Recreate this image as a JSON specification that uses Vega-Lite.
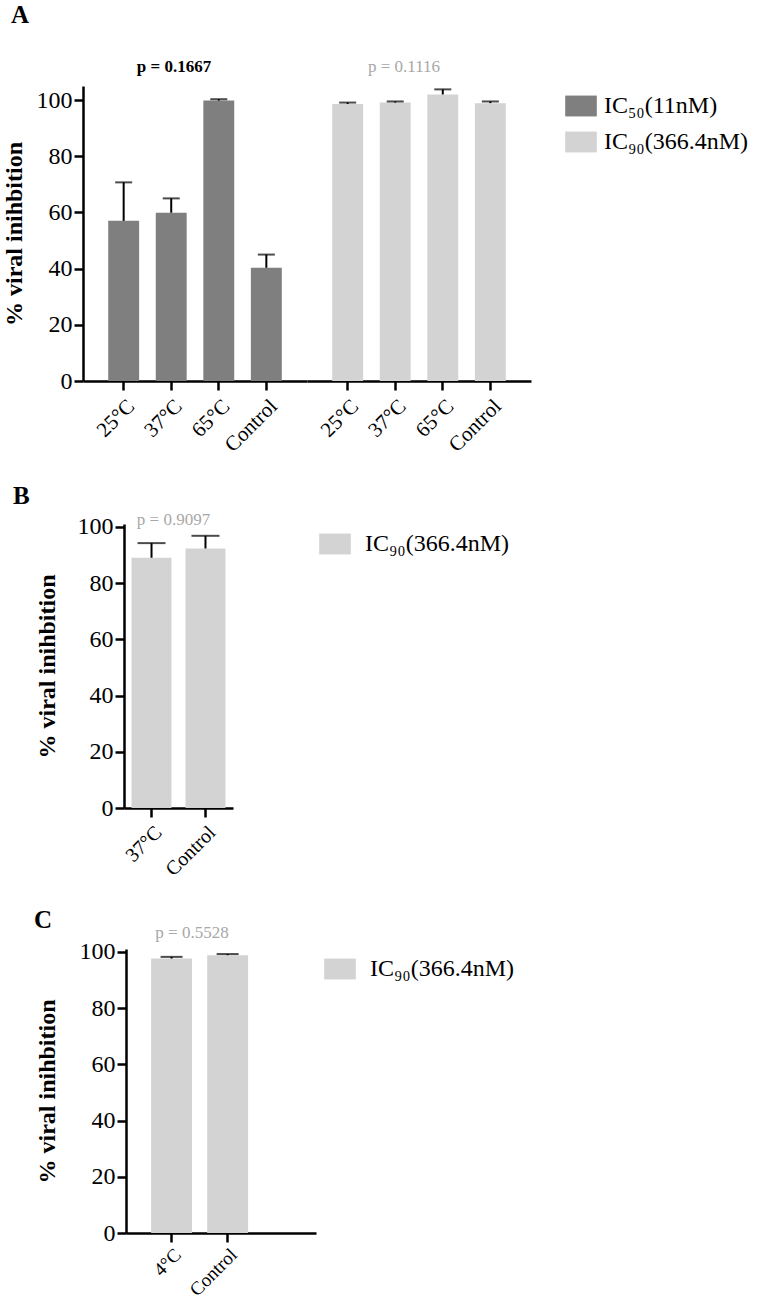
{
  "$schema": "https://vega.github.io/schema/vega-lite/v6.json",
  "background": "white",
  "padding": {"left": 2, "top": 3, "right": 5, "bottom": 2},
  "config": {
    "font": "Liberation Serif",
    "view": {"stroke": null},
    "axis": {"domainColor": "black", "domainWidth": 2.5, "tickColor": "black", "tickWidth": 2.5, "tickSize": 9, "labelFont": "Liberation Serif", "labelColor": "black", "titleFont": "Liberation Serif", "titleColor": "black", "grid": false},
    "axisY": {"labelFontSize": 24, "titleFontSize": 24, "titleFontWeight": "bold", "labelPadding": 2},
    "axisX": {"labelFontSize": 21, "labelAngle": -45, "labelPadding": 5},
    "legend": {"labelFont": "Liberation Serif", "labelFontSize": 24, "labelColor": "black", "symbolType": "M-1,-0.66L1,-0.66L1,0.66L-1,0.66Z", "symbolSize": 1000, "symbolStrokeWidth": 0, "rowPadding": 8, "labelOffset": 14, "padding": 4},
    "title": {"font": "Liberation Serif", "color": "black"}
  },
  "datasets": {
    "a50": [
      {"series": "IC₅₀(11nM)", "cond": "25°C", "value": 57.0, "upper": 70.7},
      {"series": "IC₅₀(11nM)", "cond": "37°C", "value": 59.9, "upper": 65.0},
      {"series": "IC₅₀(11nM)", "cond": "65°C", "value": 99.8, "upper": 100.3},
      {"series": "IC₅₀(11nM)", "cond": "Control", "value": 40.3, "upper": 45.0}
    ],
    "a90": [
      {"series": "IC₉₀(366.4nM)", "cond": "25°C", "value": 98.6, "upper": 99.1},
      {"series": "IC₉₀(366.4nM)", "cond": "37°C", "value": 99.1, "upper": 99.5},
      {"series": "IC₉₀(366.4nM)", "cond": "65°C", "value": 102.0, "upper": 103.8},
      {"series": "IC₉₀(366.4nM)", "cond": "Control", "value": 98.9, "upper": 99.5}
    ],
    "b": [
      {"series": "IC₉₀(366.4nM)", "cond": "37°C", "value": 89.0, "upper": 94.2},
      {"series": "IC₉₀(366.4nM)", "cond": "Control", "value": 92.3, "upper": 96.8}
    ],
    "c": [
      {"series": "IC₉₀(366.4nM)", "cond": "4°C", "value": 97.6, "upper": 98.2},
      {"series": "IC₉₀(366.4nM)", "cond": "Control", "value": 98.8, "upper": 99.2}
    ],
    "empty": []
  },
  "resolve": {"scale": {"color": "independent"}, "legend": {"color": "independent"}},
  "spacing": 27,
  "vconcat": [
    {
      "title": {"text": "A", "anchor": "start", "frame": "group", "dx": -72, "fontSize": 25, "fontWeight": "bold", "offset": 30},
      "bounds": "flush",
      "spacing": 0,
      "resolve": {"scale": {"color": "shared", "y": "independent"}},
      "hconcat": [
        {
          "width": 224, "height": 295,
          "data": {"name": "a50"},
          "title": {"text": "p = 0.1667", "fontSize": 17, "fontWeight": "bold", "color": "black", "dx": -21, "offset": 10},
          "encoding": {
            "x": {"field": "cond", "type": "nominal", "sort": null, "title": null, "scale": {"paddingInner": 0.35, "paddingOuter": 0.53}}
          },
          "layer": [
            {"mark": {"type": "bar"},
             "encoding": {
               "y": {"field": "value", "type": "quantitative", "title": "% viral inihbition", "scale": {"domain": [0, 105], "nice": false}, "axis": {"values": [0, 20, 40, 60, 80, 100], "titlePadding": 10}},
               "color": {"field": "series", "type": "nominal", "scale": {"domain": ["IC₅₀(11nM)", "IC₉₀(366.4nM)"], "range": ["#7f7f7f", "#d3d3d3"]}, "legend": {"title": null, "orient": "right", "offset": 30, "labelFontSize": 24, "labelOffset": 7}}
             }},
            {"mark": {"type": "rule", "color": "black", "strokeWidth": 2},
             "encoding": {"y": {"field": "value", "type": "quantitative", "title": "% viral inihbition"}, "y2": {"field": "upper"}}},
            {"mark": {"type": "tick", "color": "black", "thickness": 2, "size": 17},
             "encoding": {"y": {"field": "upper", "type": "quantitative", "title": "% viral inihbition"}}}
          ]
        },
        {
          "width": 224, "height": 295,
          "data": {"name": "a90"},
          "title": {"text": "p = 0.1116", "fontSize": 17, "fontWeight": "normal", "color": "#a8a8a8", "dx": -15, "offset": 10},
          "encoding": {
            "x": {"field": "cond", "type": "nominal", "sort": null, "title": null, "scale": {"paddingInner": 0.35, "paddingOuter": 0.53}}
          },
          "layer": [
            {"mark": {"type": "bar"},
             "encoding": {
               "y": {"field": "value", "type": "quantitative", "scale": {"domain": [0, 105], "nice": false}, "axis": null},
               "color": {"field": "series", "type": "nominal", "scale": {"domain": ["IC₅₀(11nM)", "IC₉₀(366.4nM)"], "range": ["#7f7f7f", "#d3d3d3"]}, "legend": {"title": null, "orient": "right", "offset": 30, "labelFontSize": 24, "labelOffset": 7}}
             }},
            {"mark": {"type": "rule", "color": "black", "strokeWidth": 2},
             "encoding": {"y": {"field": "value", "type": "quantitative", "axis": null}, "y2": {"field": "upper"}}},
            {"mark": {"type": "tick", "color": "black", "thickness": 2, "size": 17},
             "encoding": {"y": {"field": "upper", "type": "quantitative", "axis": null}}}
          ]
        }
      ]
    },
    {
      "title": {"text": "B", "anchor": "start", "frame": "group", "dx": -70, "fontSize": 25, "fontWeight": "bold", "offset": 2},
      "bounds": "flush",
      "spacing": 0,
      "hconcat": [
        {"width": 41, "height": 1, "data": {"name": "empty"}, "mark": "point", "encoding": {}},
        {
          "width": 109, "height": 284,
          "data": {"name": "b"},
          "title": {"text": "p = 0.9097", "fontSize": 17, "fontWeight": "normal", "color": "#a8a8a8", "dx": -5, "offset": -14},
          "encoding": {
            "x": {"field": "cond", "type": "nominal", "sort": null, "title": null, "scale": {"paddingInner": 0.26, "paddingOuter": 0.14}, "axis": {"labelFontSize": 20}}
          },
          "layer": [
            {"mark": {"type": "bar"},
             "encoding": {
               "y": {"field": "value", "type": "quantitative", "title": "% viral inihbition", "scale": {"domain": [0, 101], "nice": false}, "axis": {"values": [0, 20, 40, 60, 80, 100], "titlePadding": 18}},
               "color": {"field": "series", "type": "nominal", "scale": {"domain": ["IC₉₀(366.4nM)"], "range": ["#d3d3d3"]}, "legend": {"title": null, "orient": "right", "offset": 82}}
             }},
            {"mark": {"type": "rule", "color": "black", "strokeWidth": 2},
             "encoding": {"y": {"field": "value", "type": "quantitative", "title": "% viral inihbition"}, "y2": {"field": "upper"}}},
            {"mark": {"type": "tick", "color": "black", "thickness": 2, "size": 28},
             "encoding": {"y": {"field": "upper", "type": "quantitative", "title": "% viral inihbition"}}}
          ]
        }
      ]
    },
    {
      "title": {"text": "C", "anchor": "start", "frame": "group", "dx": -49, "fontSize": 25, "fontWeight": "bold", "offset": -9},
      "bounds": "flush",
      "spacing": 0,
      "hconcat": [
        {"width": 43, "height": 1, "data": {"name": "empty"}, "mark": "point", "encoding": {}},
        {
          "width": 190, "height": 284,
          "data": {"name": "c"},
          "title": {"text": "p = 0.5528", "fontSize": 17, "fontWeight": "normal", "color": "#a8a8a8", "dx": -29, "offset": -2},
          "encoding": {
            "x": {"field": "cond", "type": "nominal", "sort": null, "title": null, "scale": {"paddingInner": 0.27, "paddingOuter": 0.83, "align": 0.27}, "axis": {"labelFontSize": 19, "labelPadding": 3}}
          },
          "layer": [
            {"mark": {"type": "bar"},
             "encoding": {
               "y": {"field": "value", "type": "quantitative", "title": "% viral inihbition", "scale": {"domain": [0, 101], "nice": false}, "axis": {"values": [0, 20, 40, 60, 80, 100], "titlePadding": 20}},
               "color": {"field": "series", "type": "nominal", "scale": {"domain": ["IC₉₀(366.4nM)"], "range": ["#d3d3d3"]}, "legend": {"title": null, "orient": "right", "offset": 4}}
             }},
            {"mark": {"type": "rule", "color": "black", "strokeWidth": 2},
             "encoding": {"y": {"field": "value", "type": "quantitative", "title": "% viral inihbition"}, "y2": {"field": "upper"}}},
            {"mark": {"type": "tick", "color": "black", "thickness": 2, "size": 22},
             "encoding": {"y": {"field": "upper", "type": "quantitative", "title": "% viral inihbition"}}}
          ]
        }
      ]
    }
  ]
}
